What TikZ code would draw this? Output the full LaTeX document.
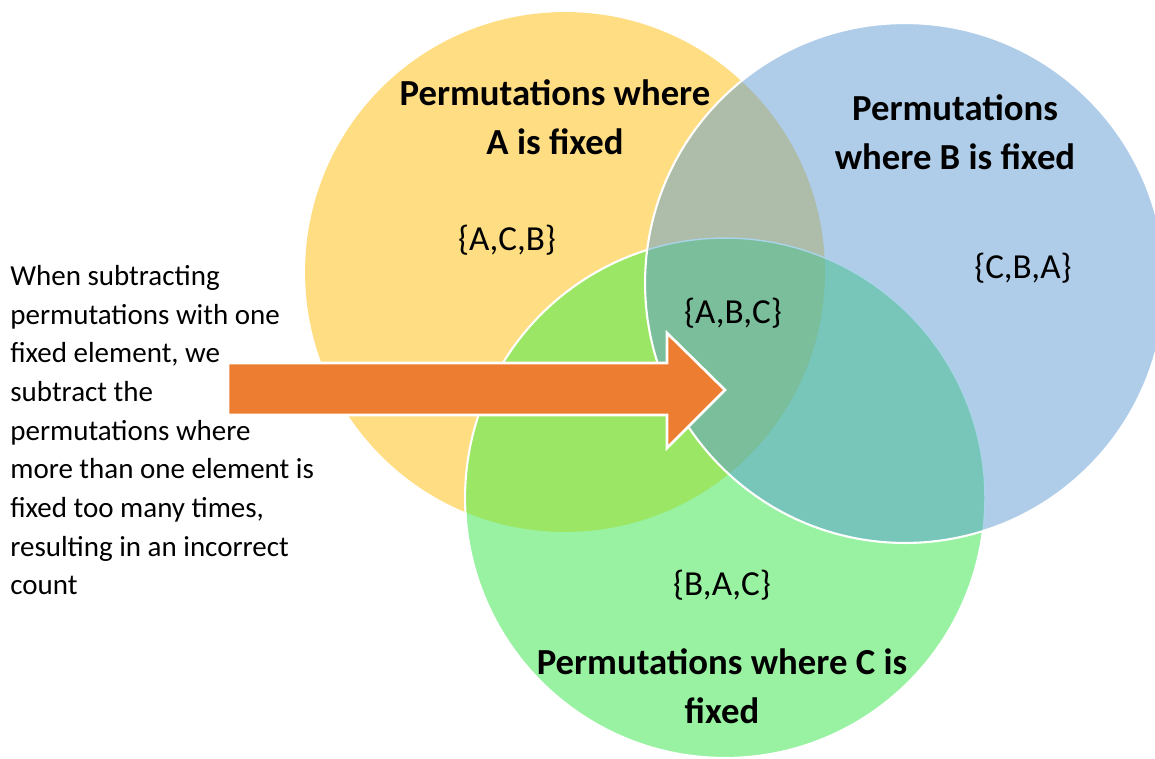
\documentclass[tikz,border=0pt]{standalone}
\usepackage{fontspec}
\setmainfont{Carlito}
\definecolor{cy}{RGB}{255,221,130}
\definecolor{cb}{RGB}{175,205,233}
\definecolor{cg}{RGB}{152,242,162}
\definecolor{cyb}{RGB}{174,189,170}
\definecolor{cyg}{RGB}{155,230,100}
\definecolor{cbg}{RGB}{120,198,186}
\definecolor{cybg}{RGB}{122,190,155}
\definecolor{corange}{RGB}{237,125,49}
\definecolor{cgline}{RGB}{170,210,232}
\begin{document}
\begin{tikzpicture}[x=0.02cm,y=-0.02cm,
  title/.style={font=\fontsize{20.9}{27.8}\selectfont\bfseries, align=center, inner sep=0},
  setlab/.style={font=\fontsize{20}{22}\selectfont, inner sep=0},
  note/.style={font=\fontsize{16.5}{22}\selectfont, align=left, inner sep=0, anchor=north west},
  border/.style={draw=white, line width=1.2pt}]
\useasboundingbox (0,0) rectangle (1155,758);
\coordinate (cA) at (565,272);
\coordinate (cB) at (905,283);
\coordinate (cC) at (725,498);
\def\R{5.2cm}
% base fills
\fill[cy] (cA) circle[radius=\R];
\fill[cb] (cB) circle[radius=\R];
\fill[cg] (cC) circle[radius=\R];
% pairwise overlaps
\begin{scope}
  \clip (cA) circle[radius=\R];
  \fill[cyb] (cB) circle[radius=\R];
  \fill[cyg] (cC) circle[radius=\R];
\end{scope}
\begin{scope}
  \clip (cB) circle[radius=\R];
  \fill[cbg] (cC) circle[radius=\R];
\end{scope}
\begin{scope}
  \clip (cA) circle[radius=\R];
  \clip (cB) circle[radius=\R];
  \fill[cybg] (cC) circle[radius=\R];
\end{scope}
% borders
\begin{scope}[even odd rule]
  \clip (-10,-10) rectangle (1200,800) (cB) circle[radius=\R];
  \draw[border] (cC) circle[radius=\R];
\end{scope}
\begin{scope}
  \clip (cB) circle[radius=\R];
  \draw[draw=cgline, line width=0.8pt] (cC) circle[radius=\R];
\end{scope}
\draw[border] (cB) circle[radius=\R];
% arrow
\draw[fill=corange, draw=white, line width=1.5pt, line join=miter]
  (228,363) -- (667,363) -- (667,333) -- (725,390) -- (667,448) -- (667,415) -- (228,415) -- cycle;
% labels
\node[title] (tA) at (555,117) {Permutations where\\A is fixed};
\node[title] (tB) at (955,132) {Permutations\\where B is fixed};
\node[title] (tC) at (722,686) {Permutations where C is\\fixed};
\node[setlab] (sA) at (507,240) {\{A,C,B\}};
\node[setlab] (sB) at (1023,268) {\{C,B,A\}};
\node[setlab] (sABC) at (733,313) {\{A,B,C\}};
\node[setlab] (sC) at (722,585) {\{B,A,C\}};
\node[note] (note) at (10,265) {When subtracting\\permutations  with one\\fixed element, we\\subtract the\\permutations  where\\more than one element is\\fixed too many times,\\resulting in an incorrect\\count};
\end{tikzpicture}
\end{document}
